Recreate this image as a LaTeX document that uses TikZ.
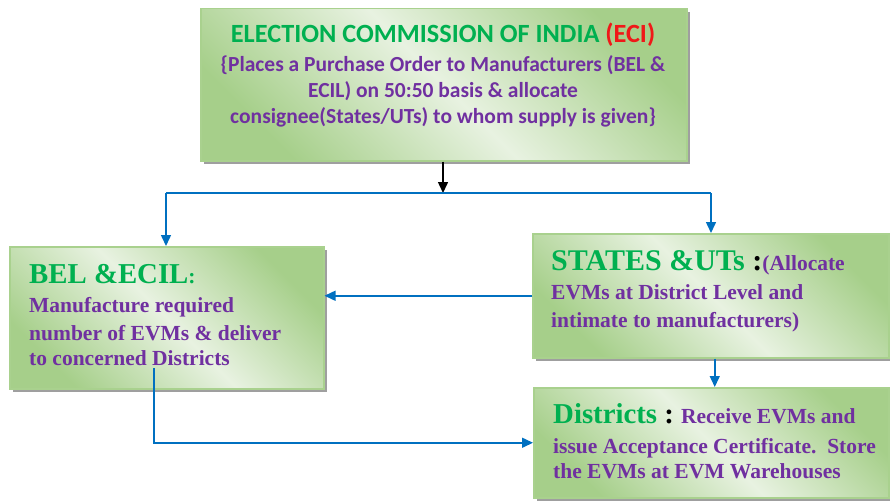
\documentclass[tikz,border=0pt]{standalone}
\usepackage{fontspec}
\setmainfont{Liberation Serif}
\newfontfamily\calfont{Carlito}
\usetikzlibrary{arrows.meta,shadows}
\definecolor{egreen}{HTML}{00B050}
\definecolor{epurple}{HTML}{7030A0}
\definecolor{ered}{HTML}{F01818}
\definecolor{eblue}{HTML}{0070C0}
\definecolor{boxdark}{HTML}{A6CF8A}
\definecolor{boxlight}{HTML}{E8F2E1}
\definecolor{boxedge}{HTML}{A9D18E}
\begin{document}
\begin{tikzpicture}[x=1pt,y=-1pt,
  box/.style={draw=boxedge, line width=1.5pt, shading=axis,
    top color=boxdark, bottom color=boxdark, middle color=boxlight,
    shading angle=-45, inner sep=0pt, anchor=north west,
    drop shadow={shadow xshift=3pt, shadow yshift=-3pt, fill=gray!75, opacity=1}},
  ecititle/.style={anchor=base, inner sep=0pt, font=\calfont\bfseries\fontsize{26.3}{30}\selectfont, text=egreen},
  ecibody/.style={anchor=base, inner sep=0pt, font=\calfont\bfseries\fontsize{21.5}{25}\selectfont, text=epurple},
  ttl/.style={anchor=base west, inner sep=0pt, font=\bfseries\fontsize{28.8}{32}\selectfont, text=egreen},
  bdy/.style={anchor=base west, inner sep=0pt, font=\bfseries\fontsize{21.5}{25}\selectfont, text=epurple},
  conn/.style={draw=eblue, line width=1.5pt, -{Triangle[length=11pt,width=10pt,fill=eblue]}},
  bline/.style={draw=eblue, line width=1.5pt},
  blk/.style={draw=black, line width=1.5pt, -{Triangle[length=11pt,width=10pt]}}
]
\useasboundingbox (0,0) rectangle (890,500);

% boxes
\node[box, minimum width=486pt, minimum height=152pt] (eci) at (200,8) {};
\node[box, minimum width=314pt, minimum height=142pt] (bel) at (9,246) {};
\node[box, minimum width=356pt, minimum height=124pt] (states) at (532,233) {};
\node[box, minimum width=355pt, minimum height=110pt] (dist) at (533,387) {};

% ECI text
\node[ecititle] (eci1) at (443,43) {ELECTION COMMISSION OF INDIA \textcolor{ered}{(ECI)}};
\node[ecibody] (eci2) at (443,72) {\{Places a Purchase Order to Manufacturers (BEL \&};
\node[ecibody] (eci3) at (443,98) {ECIL) on 50:50 basis \& allocate};
\node[ecibody] (eci4) at (443,123) {consignee(States/UTs) to whom supply is given\}};

% BEL text
\node[ttl] (bel1) at (29,283) {BEL \&ECIL{\fontsize{21.5}{25}\selectfont:}};
\node[bdy] (bel2) at (29,312) {Manufacture required};
\node[bdy] (bel3) at (29,340) {number of EVMs \& deliver};
\node[bdy] (bel4) at (29,365) {to concerned Districts};

% STATES text
\node[ttl, font=\bfseries\fontsize{30}{34}\selectfont] (st1) at (551,270) {STATES \&UTs \textcolor{black}{:}{\color{epurple}\fontsize{21.5}{25}\selectfont(Allocate}};
\node[bdy] (st2) at (551,299) {EVMs at District Level and};
\node[bdy] (st3) at (551,327) {intimate to manufacturers)};

% Districts text
\node[ttl] (d1) at (553,423) {Districts \textcolor{black}{:}{\color{epurple}\fontsize{21.5}{25}\selectfont{} Receive EVMs and}};
\node[bdy] (d2) at (553,453) {issue Acceptance Certificate.\ \ Store};
\node[bdy] (d3) at (553,478) {the EVMs at EVM Warehouses};

% connectors
\coordinate (splitM) at (443,193);
\coordinate (splitL) at (166,193);
\coordinate (splitR) at (711,193);
\coordinate (belout) at (154,368);

\draw[blk] (eci.south -| splitM) -- (splitM);
\draw[bline] (splitL) -- (splitR);
\draw[conn] (splitL) -- (splitL |- bel.north);
\draw[conn] (splitR) -- (splitR |- states.north);
\draw[conn] (states.west) -- (states.west -| bel.east);
\draw[conn] ([xshift=4pt]states.south) -- ([xshift=4pt]states.south |- dist.north);
\draw[conn] (belout) |- (dist.west);
\end{tikzpicture}
\end{document}
